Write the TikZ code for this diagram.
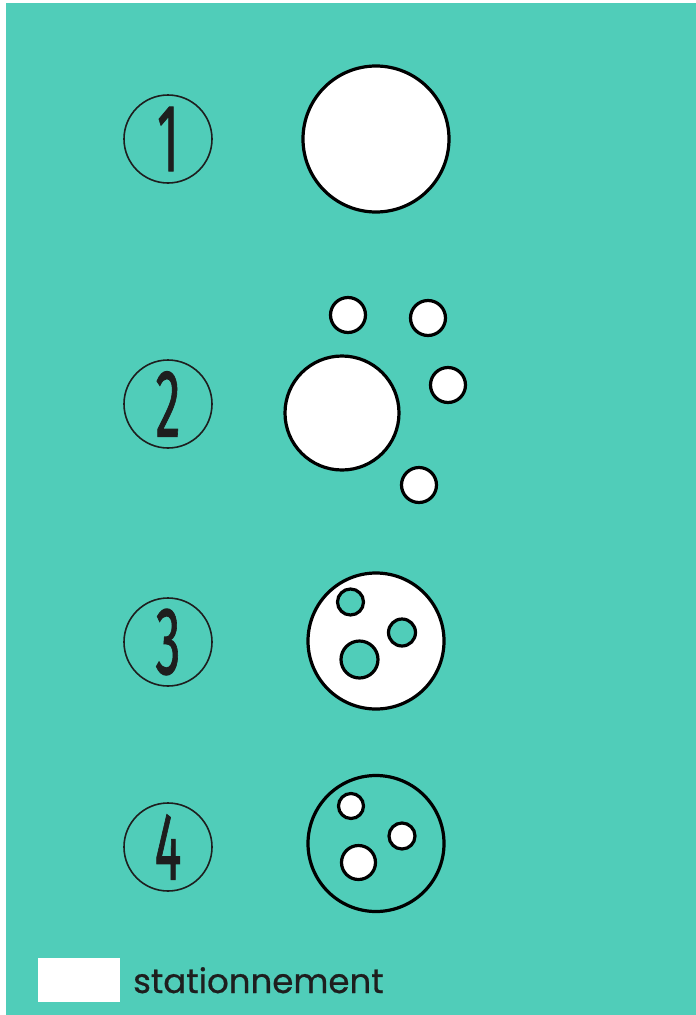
\documentclass[tikz,border=0pt]{standalone}
\usepackage{fontspec}
\newfontfamily\numfont[FakeBold=1.2]{Fira Sans}
\newfontfamily\legfont[FakeBold=0.7]{Poppins}
\definecolor{teal}{RGB}{80,205,185}
\definecolor{ink}{RGB}{30,30,30}
\begin{document}
\begin{tikzpicture}[x=1pt,y=-1pt,
  numring/.style={circle,draw=ink,line width=1.6pt,minimum size=88pt,inner sep=0pt},
  numtxt/.style={font=\numfont\fontsize{96}{96}\selectfont,text=ink,xscale=0.52,inner sep=0pt},
  lot/.style={circle,draw=black,line width=3.2pt,inner sep=0pt,minimum size=#1},
  whitelot/.style={lot=#1,fill=white},
  tealhole/.style={lot=#1,fill=teal}]
\useasboundingbox (0,0) rectangle (696,1015);
\fill[white] (0,0) rectangle (696,1015);
\fill[teal] (6,3) rectangle (696,1015);
% numbered rings
\node[numring] (r1) at (168,139) {};
\node[numtxt] (n1) at (r1) {1};
\node[numring] (r2) at (168,404) {};
\node[numtxt] (n2) at (r2) {2};
\node[numring] (r3) at (168,642) {};
\node[numtxt] (n3) at (r3) {3};
\node[numring] (r4) at (168,847) {};
\node[numtxt] (n4) at (r4) {4};
% row 1
\node[whitelot=146pt] (c1) at (376,139) {};
% row 2
\node[whitelot=114pt] (c2) at (342,413) {};
\node[whitelot=35pt] (c2a) at (348,315) {};
\node[whitelot=35pt] (c2b) at (428,318) {};
\node[whitelot=35pt] (c2c) at (448,385) {};
\node[whitelot=35pt] (c2d) at (419,485) {};
% row 3
\node[whitelot=136pt] (c3) at (376,641) {};
\node[tealhole=26pt] (c3a) at (350.5,602) {};
\node[tealhole=27pt] (c3b) at (402,632.5) {};
\node[tealhole=37pt] (c3c) at (359.5,659.5) {};
% row 4
\node[lot=136pt] (c4) at (376,843.5) {};
\node[whitelot=25pt] (c4a) at (351,806) {};
\node[whitelot=26pt] (c4b) at (402,836) {};
\node[whitelot=34pt] (c4c) at (358.5,862.5) {};
% legend
\fill[white] (38,958) rectangle (120,1002);
\node[anchor=base west,inner sep=0pt,font=\legfont\fontsize{34}{34}\selectfont,text=ink] (leg) at (133,993) {stationnement};
\end{tikzpicture}
\end{document}
